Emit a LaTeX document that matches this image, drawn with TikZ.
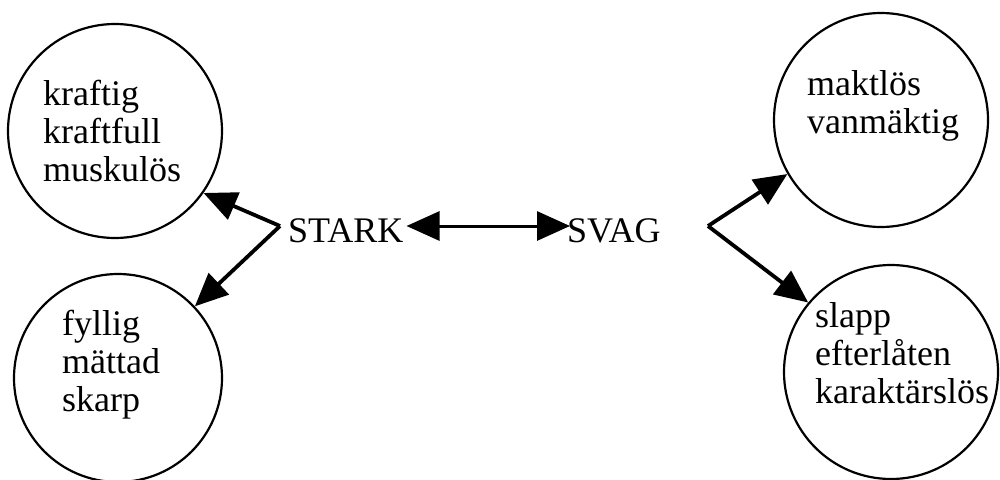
\documentclass[tikz,border=0pt]{standalone}
\usepackage{fontspec}
\setmainfont{Liberation Serif}
\usetikzlibrary{arrows.meta}
\begin{document}
\begin{tikzpicture}[x=1pt,y=-1pt,
  ring/.style={circle, draw, line width=2.2pt, inner sep=0pt},
  words/.style={anchor=base west, inner sep=0pt, font=\fontsize{36}{38.4}\selectfont},
  label/.style={anchor=base west, inner sep=0pt, font=\fontsize{36}{38.4}\selectfont},
  branch/.style={line width=3.8pt, -{Triangle[length=33pt,width=29pt]}},
  dbl/.style={line width=3pt, {Triangle[length=33pt,width=29pt]}-{Triangle[length=33pt,width=29pt]}}]
\useasboundingbox (0,0) rectangle (1000,479);
% circles
\node[ring, minimum size=214pt] (tl) at (115,131) {};
\node[ring, minimum size=208pt] (bl) at (118,378) {};
\node[ring, minimum size=214pt] (tr) at (881,120) {};
\node[ring, minimum size=214pt] (br) at (891,372) {};
% texts
\node[words] (tlt) at (43,105) {\begin{tabular}[t]{@{}l@{}}kraftig\\kraftfull\\muskulös\end{tabular}};
\node[words] (blt) at (62,335) {\begin{tabular}[t]{@{}l@{}}fyllig\\mättad\\skarp\end{tabular}};
\node[words] (trt) at (807,95) {\begin{tabular}[t]{@{}l@{}}maktlös\\vanmäktig\end{tabular}};
\node[words] (brt) at (815,327) {\begin{tabular}[t]{@{}l@{}}slapp\\efterlåten\\karaktärslös\end{tabular}};
\node[label] (stark) at (288,242) {STARK};
\node[label] (svag) at (567,242) {SVAG};
% branch points
\coordinate (vl) at (280,226);
\coordinate (vr) at (708,226);
% connectors
\draw[branch] (vl) -- (tl.-35);
\draw[branch] (vl) -- (bl.43);
\draw[branch] (vr) -- (tr.210);
\draw[branch] (vr) -- (br.140);
\draw[dbl] ([xshift=3pt]stark.east |- vl) -- ([xshift=3pt]svag.west |- vl);
\end{tikzpicture}
\end{document}
